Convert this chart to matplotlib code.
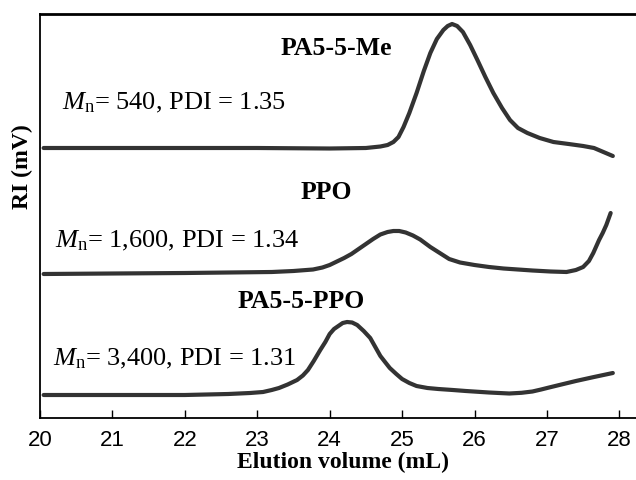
import matplotlib
matplotlib.use('Agg')
import matplotlib.pyplot as plt

plt.rcParams['mathtext.fontset'] = 'custom'
plt.rcParams['mathtext.rm'] = 'Liberation Serif'
plt.rcParams['mathtext.it'] = 'Liberation Serif:italic'

# elution volume (mL) and RI signal (arbitrary units, traces offset)
me_x = [20.05, 21, 22, 23, 24, 24.5, 24.7, 24.8, 24.88, 24.95, 25.02, 25.1, 25.2, 25.3, 25.39,
        25.48, 25.57, 25.63, 25.69, 25.76, 25.84, 25.94, 26.04, 26.15, 26.26, 26.38, 26.49,
        26.6, 26.73, 26.9, 27.09, 27.3, 27.5, 27.65, 27.78, 27.91]
me_y = [270, 270, 270, 270, 269.5, 270, 271.5, 273, 276, 281, 291, 305, 325, 347, 365,
        379, 388, 392, 394, 392, 386, 373, 358, 341, 325, 310, 298,
        290, 285, 280, 276, 274, 272, 270, 266, 262]

ppo_x = [20.05, 21, 22, 22.6, 23.2, 23.5, 23.77, 23.9, 24.0, 24.1, 24.2, 24.3, 24.38, 24.5, 24.6,
         24.7, 24.8, 24.88, 24.96, 25.05, 25.15, 25.25, 25.39, 25.52, 25.65, 25.8, 26.0,
         26.2, 26.4, 26.6, 26.8, 27.05, 27.27, 27.4, 27.5, 27.58, 27.64, 27.72, 27.77, 27.82, 27.88]
ppo_y = [144, 144.5, 145, 145.5, 146, 147, 148.5, 150.5, 153, 156.5, 160, 164, 168, 174, 179,
         183.5, 186, 187, 187, 185.5, 182.5, 178.5, 171, 165, 159, 155.5, 153,
         151, 149.5, 148.5, 147.5, 146.5, 146, 148, 151, 157, 165, 178, 185, 193, 205]

pp_x = [20.05, 21, 22, 22.6, 22.9, 23.08, 23.2, 23.3, 23.42, 23.55, 23.63, 23.7, 23.78, 23.87,
        23.94, 24.0, 24.06, 24.12, 24.18, 24.24, 24.31, 24.38, 24.47, 24.56, 24.63, 24.7,
        24.77, 24.83, 24.92, 25.0, 25.1, 25.2, 25.35, 25.5, 25.7, 25.88, 26.2, 26.48, 26.65,
        26.8, 26.92, 27.03, 27.2, 27.4, 27.65, 27.91]
pp_y = [23, 23, 23, 24, 25, 26, 28, 30, 33.5, 38, 42.5, 48, 57, 68,
        76, 84, 89, 92, 95, 96, 95.5, 93, 87, 80, 71, 62,
        55.5, 50, 44, 39, 35, 32, 30, 29, 28, 27, 25.5, 24.5, 25.2,
        26.5, 28.5, 30.5, 33.5, 37, 41, 45]

xticks = [20, 21, 22, 23, 24, 25, 26, 27, 28]

fig = plt.figure(figsize=(6.36, 4.8), dpi=100)
ax = fig.add_axes([40/636, 62/480, 596/636, 404/480])

col = '#333333'
for xs, ys in [(me_x, me_y), (ppo_x, ppo_y), (pp_x, pp_y)]:
    ax.plot(xs, ys, color=col, lw=3, solid_capstyle='round', solid_joinstyle='round')

ax.set_xlim(20, 28.23)
ax.set_ylim(0, 404)
ax.set_yticks([])
ax.set_xticks(xticks)
ax.tick_params(axis='x', direction='in', length=6, width=1, pad=9, labelsize=16)
for lab in ax.get_xticklabels():
    lab.set_family('Liberation Sans')
ax.spines['right'].set_visible(False)
for s in ['left', 'bottom']:
    ax.spines[s].set_linewidth(1.3)
ax.spines['top'].set_linewidth(2)

serif = 'Liberation Serif'
ax.text(24.09, 363, 'PA5-5-Me', family=serif, weight='bold', fontsize=18.5, ha='center', va='baseline')
ax.text(20.30, 309, r'$M_\mathrm{n}$= 540, PDI = 1.35', family=serif, fontsize=19, va='baseline')
ax.text(23.95, 219, 'PPO', family=serif, weight='bold', fontsize=18.5, ha='center', va='baseline')
ax.text(20.21, 171, r'$M_\mathrm{n}$= 1,600, PDI = 1.34', family=serif, fontsize=19, va='baseline')
ax.text(23.6, 110, 'PA5-5-PPO', family=serif, weight='bold', fontsize=18.5, ha='center', va='baseline')
ax.text(20.18, 53, r'$M_\mathrm{n}$= 3,400, PDI = 1.31', family=serif, fontsize=19, va='baseline')

fig.text(343/636, 1 - 462/480, 'Elution volume (mL)', family=serif, weight='bold',
         fontsize=17, ha='center', va='center')
fig.text(22/636, 1 - 167/480, 'RI (mV)', family=serif, weight='bold',
         fontsize=17, ha='center', va='center', rotation=90)

fig.savefig('out.png', dpi=100)
